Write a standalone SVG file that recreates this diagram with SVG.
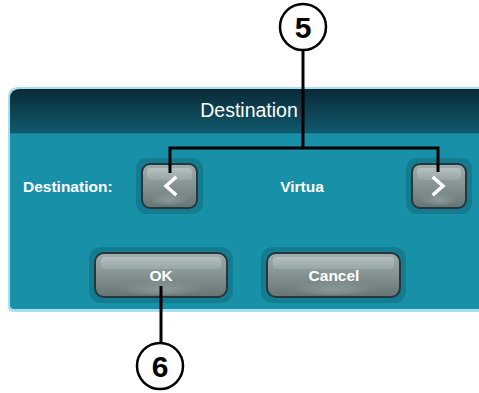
<svg xmlns="http://www.w3.org/2000/svg" width="479" height="393" viewBox="0 0 479 393">
  <defs>
    <linearGradient id="hdr" x1="0" y1="0" x2="0" y2="1">
      <stop offset="0" stop-color="#0a2a37"/>
      <stop offset="1" stop-color="#105a6e"/>
    </linearGradient>
    <linearGradient id="btn" x1="0" y1="0" x2="0" y2="1">
      <stop offset="0" stop-color="#a2aeae"/>
      <stop offset="0.45" stop-color="#879595"/>
      <stop offset="1" stop-color="#667474"/>
    </linearGradient>
    <linearGradient id="shine" x1="0" y1="0" x2="0" y2="1">
      <stop offset="0" stop-color="#c0caca"/>
      <stop offset="1" stop-color="#9caaaa"/>
    </linearGradient>
    <radialGradient id="glint" cx="0.5" cy="0.7" r="0.5">
      <stop offset="0" stop-color="#a9b8b7" stop-opacity="0.45"/>
      <stop offset="1" stop-color="#a9b8b7" stop-opacity="0"/>
    </radialGradient>
  </defs>
  <style>
    .halo { fill: #137c91; }
    .face { fill: url(#btn); stroke: #26363a; stroke-width: 2; }
    .hl { fill: url(#shine); opacity: 0.7; }
    .gl { fill: url(#glint); }
    .wt { fill: #ffffff; font-family: "Liberation Sans", Arial, sans-serif; }
    .b { font-weight: bold; font-size: 15.5px; }
    .chev { fill: none; stroke: #ffffff; stroke-width: 3.5; stroke-linecap: square; stroke-linejoin: miter; }
    .lead { fill: none; stroke: #000000; stroke-width: 3; }
    .callout circle { fill: #ffffff; stroke: #000000; stroke-width: 2.5; }
    .callout text { fill: #000000; font-family: "Liberation Sans", Arial, sans-serif; font-weight: bold; font-size: 30px; text-anchor: middle; }
  </style>

  <rect width="479" height="393" fill="#ffffff"/>

  <!-- dialog frame -->
  <g id="panel">
    <path d="M8,310 V98 Q8,87 19,87 H479 V312 H14 Q8,312 8,306 Z" fill="#a9def2"/>
    <path d="M10,307 V99 Q10,89 20,89 H479 V309 H14 Q10,309 10,305 Z" fill="#1890a8"/>
    <path d="M10,133 V99 Q10,89 20,89 H479 V133 Z" fill="url(#hdr)"/>
    <rect x="10" y="133" width="469" height="1" fill="#1a7f93"/>
    <text class="wt" x="249" y="117" font-size="19.5" text-anchor="middle">Destination</text>
  </g>

  <g id="dest-label">
    <text class="wt b" x="23" y="192">Destination:</text>
  </g>

  <g id="btn-prev">
    <rect class="halo" x="136" y="158" width="67" height="56" rx="11"/>
    <rect class="face" x="142" y="164" width="55" height="44" rx="8"/>
    <rect class="hl" x="147" y="168" width="45" height="12" rx="4"/>
    <ellipse class="gl" cx="169" cy="197" rx="20" ry="8"/>
    <polyline class="chev" points="175,178 166,186 175,194"/>
  </g>

  <g id="value">
    <text class="wt b" x="302" y="192" text-anchor="middle">Virtua</text>
  </g>

  <g id="btn-next">
    <rect class="halo" x="406" y="158" width="66" height="56" rx="11"/>
    <rect class="face" x="412" y="164" width="54" height="44" rx="8"/>
    <rect class="hl" x="417" y="168" width="44" height="12" rx="4"/>
    <ellipse class="gl" cx="439" cy="197" rx="20" ry="8"/>
    <polyline class="chev" points="434,178 443,186 434,194"/>
  </g>

  <g id="btn-ok">
    <rect class="halo" x="89" y="247" width="144" height="56" rx="12"/>
    <rect class="face" x="95" y="253" width="132" height="44" rx="9"/>
    <rect class="hl" x="101" y="257" width="120" height="12" rx="4"/>
    <ellipse class="gl" cx="161" cy="286" rx="45" ry="9"/>
    <text class="wt b" x="161" y="281" text-anchor="middle">OK</text>
  </g>

  <g id="btn-cancel">
    <rect class="halo" x="261" y="247" width="145" height="56" rx="12"/>
    <rect class="face" x="267" y="253" width="133" height="44" rx="9"/>
    <rect class="hl" x="273" y="257" width="121" height="12" rx="4"/>
    <ellipse class="gl" cx="334" cy="286" rx="45" ry="9"/>
    <text class="wt b" x="334" y="281" text-anchor="middle">Cancel</text>
  </g>

  <!-- leader lines from the callouts -->
  <g id="connectors">
    <polyline class="lead" points="170,173 170,148 438,148 438,172"/>
    <line class="lead" x1="303" y1="50" x2="303" y2="148"/>
    <line class="lead" x1="161" y1="286" x2="161" y2="343"/>
  </g>

  <g id="callout-5" class="callout">
    <circle cx="303" cy="27" r="23"/>
    <text x="303" y="38">5</text>
  </g>

  <g id="callout-6" class="callout">
    <circle cx="160" cy="366" r="23"/>
    <text x="160" y="377">6</text>
  </g>
</svg>
